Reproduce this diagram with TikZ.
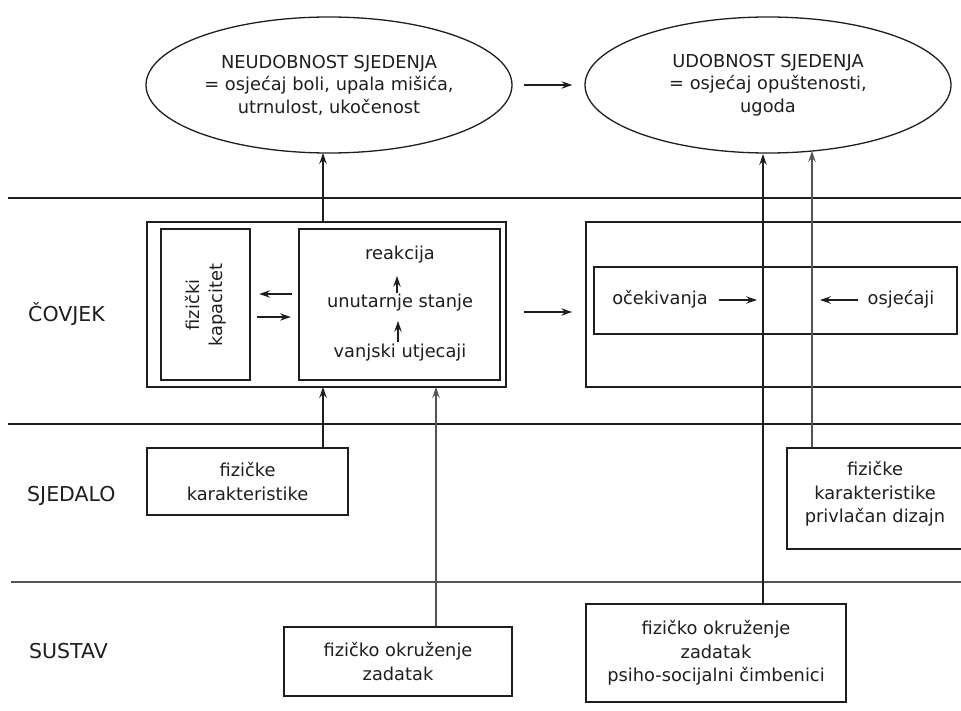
\documentclass[tikz,border=0pt]{standalone}
\usepackage{fontspec}
\setmainfont{DejaVu Sans}
\usetikzlibrary{arrows.meta,shapes.geometric,calc}
\definecolor{ink}{HTML}{1E1E1E}
\definecolor{grayline}{HTML}{555555}
\begin{document}
\begin{tikzpicture}[x=1pt,y=-1pt,
  arr/.style={-{Stealth[length=11pt,width=7.5pt,inset=4pt]}, line width=1.3pt, draw=ink},
  sepline/.style={line width=1.3pt, draw=ink},
  box/.style={draw=ink, line width=1.8pt, rectangle, inner sep=0pt},
  ibox/.style={draw=ink, line width=2.4pt, rectangle, inner sep=0pt},
  txt/.style={font=\fontsize{17.8}{23.5}\selectfont, align=center, inner sep=0pt, text=ink},
  lab/.style={font=\fontsize{20.5}{23}\selectfont, anchor=base west, inner sep=0pt, text=ink},
  ell/.style={draw=ink, ellipse, line width=1.3pt, minimum width=366pt, minimum height=136pt, inner sep=0pt, font=\fontsize{17.8}{22.5}\selectfont, align=center, text=ink}
]
\useasboundingbox (0,0) rectangle (961,711);

% separators
\draw[sepline] (8,198) -- (961,198);
\draw[sepline] (8,424) -- (961,424);
\draw[sepline, draw=grayline] (11,582) -- (961,582);

% row labels
\node[lab] (lcov) at (28,322) {ČOVJEK};
\node[lab] (lsje) at (27,501) {SJEDALO};
\node[lab] (lsus) at (29,658) {SUSTAV};

% ellipses
\node[ell] (e1) at (329,85) {NEUDOBNOST SJEDENJA\\= osjećaj boli, upala mišića,\\utrnulost, ukočenost};
\node[ell] (e2) at (768,85) {UDOBNOST SJEDENJA\\= osjećaj opuštenosti,\\ugoda};
\draw[arr, shorten <=11pt, shorten >=12pt] (e1.east) -- (e2.west);

% COVJEK boxes
\node[box, minimum width=359pt, minimum height=165pt] (cov) at (326.5,304.5) {};
\node[ibox, minimum width=89pt, minimum height=151pt] (fk) at (205.5,304.5) {};
\node[txt, rotate=90] (fkt) at (205.5,305) {fizički\\kapacitet};
\node[ibox, minimum width=201pt, minimum height=151pt] (us) at (399.5,304.5) {};
\node[txt, anchor=base] (re) at (400,260) {reakcija};
\node[txt, anchor=base] (un) at (400,308) {unutarnje stanje};
\node[txt, anchor=base] (vu) at (400,357) {vanjski utjecaji};
\draw[arr, shorten <=1pt, shorten >=9pt] ([xshift=-2pt]vu.north) -- ([xshift=-2pt]un.south);
\draw[arr, shorten <=1pt, shorten >=12pt] ([xshift=-3pt]un.north) -- ([xshift=-3pt]re.south);
\draw[arr, shorten <=6pt, shorten >=8pt] ([yshift=10.5pt]us.west) -- ([yshift=10.5pt]fk.east);
\draw[arr, shorten <=6pt, shorten >=7pt] ([yshift=-12.5pt]fk.east) -- ([yshift=-12.5pt]us.west);

% right COVJEK box
\node[box, minimum width=424pt, minimum height=165pt] (rb) at (798,304.5) {};
\node[box, line width=1.6pt, minimum width=363pt, minimum height=67pt] (ib) at (775.5,300.5) {};
\node[txt, anchor=base] (ocek) at (660,305) {očekivanja};
\node[txt, anchor=base] (osj) at (901,305) {osjećaji};
\coordinate (m1) at (757,300);
\coordinate (m2) at (820,300);
\draw[arr, shorten <=11pt] (ocek.east |- m1) -- (m1);
\draw[arr, shorten <=9pt] (osj.west |- m2) -- (m2);
\draw[arr, shorten <=17pt, shorten >=13pt] ([yshift=-7.5pt]cov.east) -- ([yshift=-7.5pt]rb.west);

% SJEDALO boxes
\node[box, minimum width=201pt, minimum height=67pt, txt] (sjl) at (247.5,481.5) {fizičke\\karakteristike};
\node[box, minimum width=176pt, minimum height=101pt] (sjr) at (875,498.5) {};
\node[txt] (sjrt) at (875,494) {fizičke\\karakteristike\\privlačan dizajn};

% SUSTAV boxes
\node[box, minimum width=228pt, minimum height=69pt, txt] (sl) at (398,661.5) {fizičko okruženje\\zadatak};
\node[box, minimum width=260pt, minimum height=98pt, txt] (sr) at (716,653) {fizičko okruženje\\zadatak\\psiho-socijalni čimbenici};

% vertical connectors
\coordinate (e1a) at (323,153);
\coordinate (e2a) at (763,154);
\coordinate (e2b) at (812,151);
\coordinate (cva) at (323,387);
\coordinate (cvb) at (436,387);
\draw[arr] (cov.north -| e1a) -- (e1a);
\draw[arr] (sjl.north -| cva) -- (cva);
\draw[arr, draw=grayline] (sl.north -| cvb) -- (cvb);
\draw[arr] (sr.north -| e2a) -- (e2a);
\draw[arr, draw=grayline] (sjr.north -| e2b) -- (e2b);
\end{tikzpicture}
\end{document}
